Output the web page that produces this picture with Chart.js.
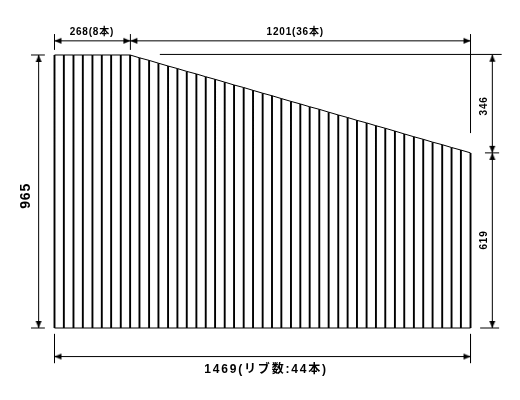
<!DOCTYPE html>
<html>
<head>
<meta charset="utf-8">
<style>
  html, body { margin: 0; padding: 0; background: #fff; }
  canvas { display: block; }
</style>
<script src="https://cdn.jsdelivr.net/npm/chart.js@4"></script>
</head>
<body>
<canvas id="myChart" width="520" height="400"></canvas>
<script>
// rib edges along the panel, in mm
const ribX = [0, 33, 67, 100, 134, 167, 200, 234, 267, 300, 334, 367, 401, 434, 467,
  501, 534, 567, 601, 634, 668, 701, 735, 768, 801, 835, 868, 901, 935, 968, 1002,
  1035, 1068, 1102, 1135, 1168, 1202, 1235, 1269, 1302, 1335, 1369, 1402, 1435, 1469];
// height of the panel at each rib edge, in mm
const ribTop = [965, 965, 965, 965, 965, 965, 965, 965, 965, 955, 946, 936, 926, 917, 907,
  898, 888, 879, 869, 859, 850, 840, 830, 821, 811, 801, 792, 782, 773, 763, 753,
  744, 734, 725, 715, 706, 696, 686, 676, 667, 657, 648, 638, 629, 619];

// dimension lines with arrow heads: x1, y1, x2, y2 in mm
const dimLines = [
  [0, 1015, 268, 1015],
  [268, 1015, 1469, 1015],
  [0, -101, 1469, -101],
  [-56, 0, -56, 965],
  [1546, 619, 1546, 966],
  [1546, 0, 1546, 619],
];
// extension lines and ticks: x1, y1, x2, y2 in mm
const extLines = [
  [0, 983, 0, 1039],
  [268, 983, 268, 1039],
  [1469, 689, 1469, 1039],
  [372, 967, 1579, 967],
  [-83, 965, -34, 965],
  [-83, 0, -34, 0],
  [1520, 619, 1570, 619],
  [1503, 0, 1570, 0],
  [0, -21, 0, -124],
  [1469, -21, 1469, -124],
];
// text labels: text, x, y in mm, rotated, font, letter spacing
const labelFont = "'Liberation Sans', 'Noto Sans CJK JP'";
const labels = [
  ["268(8本)", 132, 1046, false, "bold 10px " + labelFont, "0.8px"],
  ["1201(36本)", 850, 1046, false, "bold 10px " + labelFont, "0.8px"],
  ["346", 1518, 785, true, "bold 10px " + labelFont, "0.8px"],
  ["619", 1518, 311, true, "bold 10px " + labelFont, "0.8px"],
  ["965", -100, 467, true, "bold 14px " + labelFont, "0.8px"],
  ["1469(リブ数:44本)", 747, -146, false, "bold 12px " + labelFont, "1.8px"],
];

// arrow head with its tip at the middle of the image, points up
const arrow = document.createElement("canvas");
arrow.width = 18;
arrow.height = 18;
const a = arrow.getContext("2d");
a.fillStyle = "#000";
a.beginPath();
a.moveTo(9, 9);
a.lineTo(12, 16);
a.lineTo(6, 16);
a.closePath();
a.fill();

function segments(list) {
  const pts = [];
  list.forEach((s) => {
    pts.push({ x: s[0], y: s[1] }, { x: s[2], y: s[3] }, { x: NaN, y: NaN });
  });
  return pts;
}

const ribSegments = ribX.map((x, i) => [x, 0, x, ribTop[i]]);
const outline = ribX.map((x, i) => ({ x: x, y: ribTop[i] }));

const plain = { showLine: true, pointRadius: 0, borderColor: "#000", borderWidth: 1, tension: 0 };

const dimSets = dimLines.map((d) => ({
  showLine: true,
  data: [{ x: d[0], y: d[1] }, { x: d[2], y: d[3] }],
  borderColor: "#000",
  borderWidth: 1,
  pointStyle: arrow,
  pointRadius: 4,
  pointRotation: (c) => {
    if (d[1] === d[3]) return c.dataIndex === 0 ? -90 : 90;
    return c.dataIndex === 0 ? 180 : 0;
  },
}));

const textPlugin = {
  id: "dimText",
  afterDatasetsDraw(chart) {
    const c = chart.ctx;
    labels.forEach((l) => {
      c.save();
      c.translate(chart.scales.x.getPixelForValue(l[1]), chart.scales.y.getPixelForValue(l[2]));
      if (l[3]) c.rotate(-Math.PI / 2);
      c.font = l[4];
      c.fillStyle = "#000";
      c.textAlign = "center";
      c.textBaseline = "middle";
      c.letterSpacing = l[5];
      c.fillText(l[0], 0, 0);
      c.restore();
    });
  },
};

new Chart(document.getElementById("myChart"), {
  type: "scatter",
  data: {
    datasets: [
      { ...plain, data: segments(ribSegments), borderWidth: 1.9 },
      { ...plain, data: outline },
      { ...plain, data: [{ x: 0, y: 0 }, { x: 1469, y: 0 }] },
      { ...plain, data: segments(extLines) },
      ...dimSets,
    ],
  },
  options: {
    responsive: false,
    animation: false,
    devicePixelRatio: 1,
    events: [],
    layout: { padding: 0, autoPadding: false },
    plugins: { legend: { display: false }, tooltip: { enabled: false } },
    scales: {
      x: { type: "linear", display: false, min: -192.45, max: 1643.7 },
      y: { type: "linear", display: false, min: -254.5, max: 1159.4 },
    },
  },
  plugins: [textPlugin],
});
</script>
</body>
</html>
